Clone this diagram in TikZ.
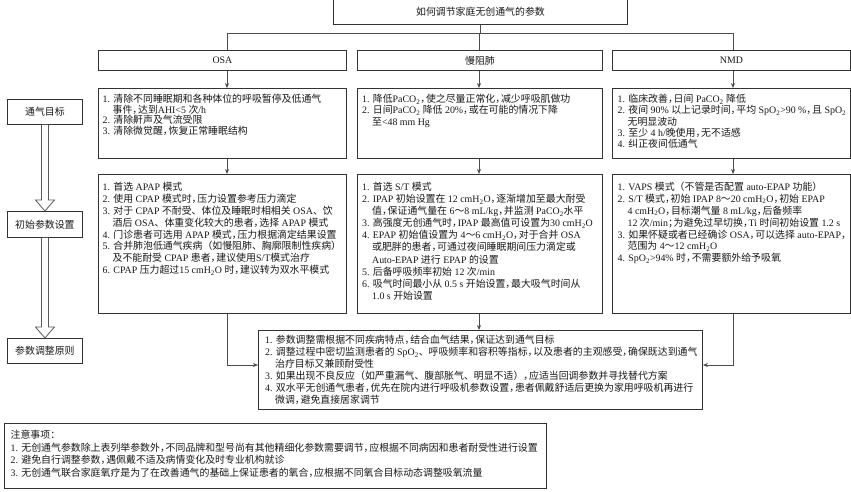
\documentclass[tikz,border=0pt]{standalone}
\usepackage{fontspec}
\setmainfont{Liberation Serif}
\newfontfamily\cjkfont{Noto Sans CJK SC}
\usetikzlibrary{arrows.meta,calc}
\newcount\cjkcnt
\XeTeXinterchartokenstate=1
\newXeTeXintercharclass\cjkcls
\newcommand\setcjkrange[2]{\cjkcnt=#1\relax\loop\XeTeXcharclass\cjkcnt=\cjkcls\relax\ifnum\cjkcnt<#2\relax\advance\cjkcnt by 1\relax\repeat}
\setcjkrange{"3000}{"303F}
\setcjkrange{"4E00}{"9FFF}
\setcjkrange{"FF00}{"FFEF}
\XeTeXinterchartoks 0 \cjkcls = {\cjkfont}
\XeTeXinterchartoks 4095 \cjkcls = {\cjkfont}
\XeTeXinterchartoks \cjkcls 0 = {\rmfamily}
\XeTeXinterchartoks \cjkcls 4095 = {\rmfamily}
\newcommand\fl{\rule{0pt}{9pt}}
\newcommand\ii{\hspace*{9.9pt}}
\newcommand\sub{\textsubscript{2}}
\newcommand\cm{，\kern-4.2pt}
\newcommand\sm{；\kern-4.2pt}
\tikzset{
  bx/.style={draw=black!80, line width=0.9pt, inner sep=0pt, anchor=north west, fill=white},
  lbl/.style={bx, font=\fontsize{9.9}{11.9}\selectfont, text=black!90},
  tx/.style={inner sep=0pt, anchor=north west, align=left, text=black!90},
  cn/.style={draw=black!70, line width=0.7pt},
  ar/.style={cn, -{Stealth[length=5pt,width=4pt]}},
  dar/.style={draw=black!65, line width=0.8pt, fill=white, line join=miter}
}
\begin{document}
\begin{tikzpicture}[x=1pt,y=-1pt]
\useasboundingbox[fill=white] (0,0) rectangle (851,491);
% coordinates for connector columns
\coordinate (xo) at (227,0);
\coordinate (xc) at (479,0);
\coordinate (xn) at (733,0);
\coordinate (yb) at (0,33);
\coordinate (ym) at (0,365);

% title
\node[lbl, minimum width=294pt, minimum height=26pt] (tt) at (333,-2) {如何调节家庭无创通气的参数};
% headers
\node[lbl, minimum width=248pt, minimum height=20pt] (oh) at (98,50) {OSA};
\node[lbl, minimum width=245pt, minimum height=20pt] (ch) at (357,50) {慢阻肺};
\node[lbl, minimum width=238pt, minimum height=20pt] (nh) at (612,50) {NMD};
% box 1
\node[bx, minimum width=248pt, minimum height=70pt] (o1) at (98,88) {};
\node[bx, minimum width=245pt, minimum height=70pt] (c1) at (357,88) {};
\node[bx, minimum width=238pt, minimum height=70pt] (n1) at (612,88) {};
% box 2
\node[bx, minimum width=248pt, minimum height=139pt] (o2) at (98,174) {};
\node[bx, minimum width=245pt, minimum height=139pt] (c2) at (357,174) {};
\node[bx, minimum width=238pt, minimum height=139pt] (n2) at (612,174) {};
% bottom box
\node[bx, minimum width=444pt, minimum height=79pt] (bb) at (258,330) {};
% notes
\node[bx, minimum width=542pt, minimum height=65pt] (nt) at (4,423) {};
% left labels
\node[lbl, minimum width=75pt, minimum height=25pt] (l1) at (7,99) {通气目标};
\node[lbl, minimum width=75pt, minimum height=26pt] (l2) at (7,211) {初始参数设置};
\node[lbl, minimum width=75pt, minimum height=25pt] (l3) at (7,338) {参数调整原则};

% texts box 1
\node[tx, font=\fontsize{9.9}{10.6}\selectfont] (o1t) at ($(o1.north west)+(4.5,5.5)$) {\fl 1. 清除不同睡眠期和各种体位的呼吸暂停及低通气\\
\ii 事件\cm 达到AHI<5 次/h\\
2. 清除鼾声及气流受限\\
3. 清除微觉醒\cm 恢复正常睡眠结构};
\node[tx, font=\fontsize{9.9}{11.2}\selectfont] (c1t) at ($(c1.north west)+(5,5.5)$) {\fl 1. 降低PaCO\sub\cm 使之尽量正常化\cm 减少呼吸肌做功\\
2. 日间PaCO\sub{} 降低 20\%\cm 或在可能的情况下降\\
\ii 至<48 mm Hg};
\node[tx, font=\fontsize{9.9}{11.2}\selectfont] (n1t) at ($(n1.north west)+(5.5,5.5)$) {\fl 1. 临床改善\cm 日间 PaCO\sub{} 降低\\
2. 夜间 90\% 以上记录时间\cm 平均 SpO\sub>90 \%\cm 且 SpO\sub\\
\ii 无明显波动\\
3. 至少 4 h/晚使用\cm 无不适感\\
4. 纠正夜间低通气};

% texts box 2
\node[tx, font=\fontsize{9.9}{11.9}\selectfont] (o2t) at ($(o2.north west)+(4.5,7.2)$) {\fl 1. 首选 APAP 模式\\
2. 使用 CPAP 模式时\cm 压力设置参考压力滴定\\
3. 对于 CPAP 不耐受、体位及睡眠时相相关 OSA、饮\\
\ii 酒后 OSA、体重变化较大的患者\cm 选择 APAP 模式\\
4. 门诊患者可选用 APAP 模式\cm 压力根据滴定结果设置\\
5. 合并肺泡低通气疾病（如慢阻肺、胸廓限制性疾病）\\
\ii 及不能耐受 CPAP 患者\cm 建议使用S/T模式治疗\\
6. CPAP 压力超过15 cmH\sub O 时\cm 建议转为双水平模式};
\node[tx, font=\fontsize{9.9}{12.1}\selectfont] (c2t) at ($(c2.north west)+(5,7.2)$) {\fl 1. 首选 S/T 模式\\
2. IPAP 初始设置在 12 cmH\sub O\cm 逐渐增加至最大耐受\\
\ii 值\cm 保证通气量在 6～8 mL/kg\cm 并监测 PaCO\sub 水平\\
3. 高强度无创通气时\cm IPAP 最高值可设置为30 cmH\sub O\\
4. EPAP 初始值设置为 4～6 cmH\sub O\cm 对于合并 OSA\\
\ii 或肥胖的患者\cm 可通过夜间睡眠期间压力滴定或\\
\ii Auto-EPAP 进行 EPAP 的设置\\
5. 后备呼吸频率初始 12 次/min\\
6. 吸气时间最小从 0.5 s 开始设置\cm 最大吸气时间从\\
\ii 1.0 s 开始设置};
\node[tx, font=\fontsize{9.9}{11.9}\selectfont] (n2t) at ($(n2.north west)+(5.5,7.2)$) {\fl 1. VAPS 模式（不管是否配置 auto-EPAP 功能）\\
2. S/T 模式\cm 初始 IPAP 8～20 cmH\sub O\cm 初始 EPAP\\
\ii 4 cmH\sub O\cm 目标潮气量 8 mL/kg\cm 后备频率\\
\ii 12 次/min\sm 为避免过早切换\cm Ti 时间初始设置 1.2 s\\
3. 如果怀疑或者已经确诊 OSA\cm 可以选择 auto-EPAP\cm\\
\ii 范围为 4～12 cmH\sub O\\
4. SpO\sub>94\% 时\cm 不需要额外给予吸氧};

% bottom text
\node[tx, font=\fontsize{9.9}{12}\selectfont] (bbt) at ($(bb.north west)+(7,4.5)$) {\fl 1. 参数调整需根据不同疾病特点\cm 结合血气结果\cm 保证达到通气目标\\
2. 调整过程中密切监测患者的 SpO\sub、呼吸频率和容积等指标\cm 以及患者的主观感受\cm 确保既达到通气\\
\ii 治疗目标又兼顾耐受性\\
3. 如果出现不良反应（如严重漏气、腹部胀气、明显不适）\cm 应适当回调参数并寻找替代方案\\
4. 双水平无创通气患者\cm 优先在院内进行呼吸机参数设置\cm 患者佩戴舒适后更换为家用呼吸机再进行\\
\ii 微调\cm 避免直接居家调节};

% notes text
\node[tx, font=\fontsize{9.9}{12.5}\selectfont] (ntt) at ($(nt.north west)+(6.5,6.5)$) {\fl 注意事项：\\
1. 无创通气参数除上表列举参数外\cm 不同品牌和型号尚有其他精细化参数需要调节\cm 应根据不同病因和患者耐受性进行设置\\
2. 避免自行调整参数\cm 遇佩戴不适及病情变化及时专业机构就诊\\
3. 无创通气联合家庭氧疗是为了在改善通气的基础上保证患者的氧合\cm 应根据不同氧合目标动态调整吸氧流量};

% tree connectors
\draw[cn] (tt.south) -- (tt.south |- yb);
\draw[cn] (yb -| xo) -- (yb -| xn);
\draw[cn] (yb -| xo) -- (oh.north -| xo);
\draw[cn] (yb -| xc) -- (ch.north -| xc);
\draw[cn] (yb -| xn) -- (nh.north -| xn);
\draw[ar] (oh.south -| xo) -- (o1.north -| xo);
\draw[ar] (ch.south -| xc) -- (c1.north -| xc);
\draw[ar] (nh.south -| xn) -- (n1.north -| xn);
\draw[ar] (o1.south -| xo) -- (o2.north -| xo);
\draw[ar] (c1.south -| xc) -- (c2.north -| xc);
\draw[ar] (n1.south -| xn) -- (n2.north -| xn);
\draw[ar] (c2.south -| xc) -- (bb.north -| xc);
\draw[ar] (o2.south -| xo) |- (bb.west |- ym);
\draw[ar] (n2.south -| xn) |- (bb.east |- ym);

% double arrows on the left
\draw[dar] ($(l1.south)+(-3.5,0)$) -- ($(l2.north)+(-3.5,-11)$) -- ($(l2.north)+(-9.5,-11)$) -- (l2.north) -- ($(l2.north)+(9.5,-11)$) -- ($(l2.north)+(3.5,-11)$) -- ($(l1.south)+(3.5,0)$);
\draw[dar] ($(l2.south)+(-3.5,0)$) -- ($(l3.north)+(-3.5,-11)$) -- ($(l3.north)+(-9.5,-11)$) -- (l3.north) -- ($(l3.north)+(9.5,-11)$) -- ($(l3.north)+(3.5,-11)$) -- ($(l2.south)+(3.5,0)$);
\end{tikzpicture}
\end{document}
